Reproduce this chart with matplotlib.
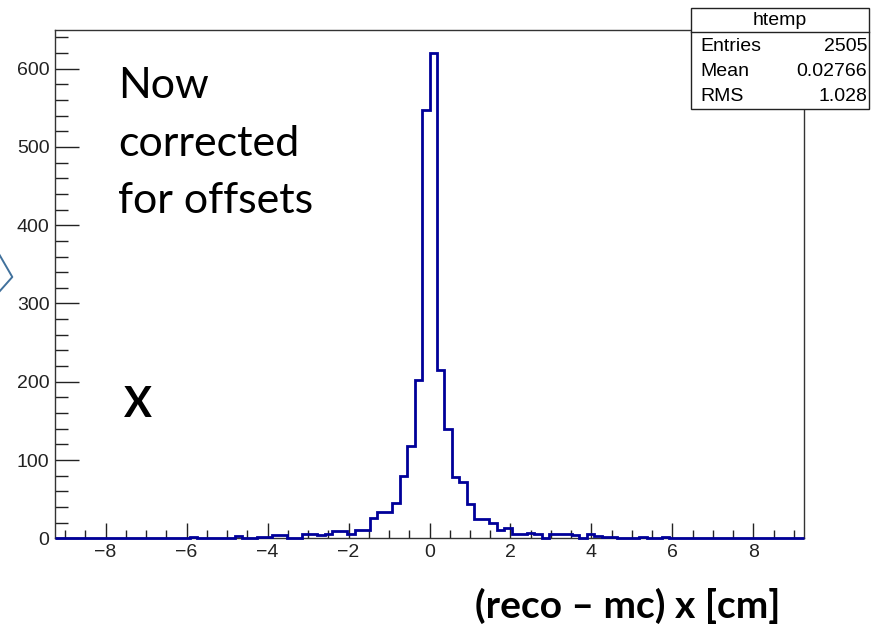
import numpy as np
import matplotlib
matplotlib.use("Agg")
import matplotlib.pyplot as plt
from matplotlib.patches import Rectangle
from matplotlib.lines import Line2D
from matplotlib.ticker import MultipleLocator

# ---- data ----
x_min, x_max, n_bins = -9.25, 9.25, 100
counts = [0] * 100
tail_and_core = {
    18: 2, 24: 3, 25: 1, 26: 1, 27: 2, 28: 2, 29: 4, 30: 4, 31: 1, 32: 1,
    33: 5, 34: 5, 35: 4, 36: 6, 37: 9, 38: 9, 39: 5, 40: 10, 41: 10,
    42: 26, 43: 34, 44: 34, 45: 45, 46: 80, 47: 118, 48: 202, 49: 547,
    50: 620, 51: 215, 52: 140, 53: 78, 54: 72, 55: 44, 56: 25, 57: 25,
    58: 19, 59: 11, 60: 13, 61: 6, 62: 6, 63: 7, 64: 5, 65: 1, 66: 6,
    67: 5, 68: 5, 69: 4, 70: 1, 71: 5, 72: 3, 73: 2, 74: 2, 78: 2, 81: 2,
}
for k, v in tail_and_core.items():
    counts[k] = v
x_ticks = [-8, -6, -4, -2, 0, 2, 4, 6, 8]
y_ticks = [0, 100, 200, 300, 400, 500, 600]
stats_labels = ["Entries", "Mean", "RMS"]
stats_values = ["2505", "0.02766", "1.028"]

W, H = 872, 625
fig = plt.figure(figsize=(W / 100, H / 100), dpi=100)
fig.patch.set_facecolor("white")

def fx(x):
    return x / W

def fy(y):
    return 1 - y / H

ax_l, ax_r, ax_t, ax_b = 55, 804, 29.5, 538.3
ax = fig.add_axes([fx(ax_l), fy(ax_b), (ax_r - ax_l) / W, (ax_b - ax_t) / H])

edges = np.linspace(x_min, x_max, n_bins + 1)
ax.stairs(counts, edges, color="#000099", lw=2.0, clip_on=False, zorder=5)
ax.set_xlim(x_min, x_max)
ax.set_ylim(0, 650)

tick_font = dict(family="Liberation Sans", size=14, color="#222222")
ax.set_xticks(x_ticks)
ax.set_xticklabels([("\u2212" + str(-t)) if t < 0 else str(t) for t in x_ticks], **tick_font)
ax.set_yticks(y_ticks)
ax.set_yticklabels([str(t) for t in y_ticks], **tick_font)
ax.xaxis.set_minor_locator(MultipleLocator(0.5))
ax.yaxis.set_minor_locator(MultipleLocator(20))
ax.tick_params(axis="x", which="major", direction="in", length=11, width=1, pad=4, color="#222222")
ax.tick_params(axis="x", which="minor", direction="in", length=6, width=1, color="#222222")
ax.tick_params(axis="y", which="major", direction="in", length=17, width=1, pad=4, color="#222222")
ax.tick_params(axis="y", which="minor", direction="in", length=9, width=1, color="#222222")
for s in ax.spines.values():
    s.set_color("#333333")
    s.set_linewidth(1)

# ---- stats box ----
bx0, bx1, by0, by1, bsep = 691, 869, 8.3, 109, 32.3
fig.patches.append(Rectangle((fx(bx0), fy(by1)), (bx1 - bx0) / W, (by1 - by0) / H,
                             transform=fig.transFigure, facecolor="white",
                             edgecolor="#222222", lw=1, zorder=10))
fig.lines.append(Line2D([fx(bx0), fx(bx1)], [fy(bsep), fy(bsep)],
                        transform=fig.transFigure, color="#222222", lw=1, zorder=11))
fig.text(fx((bx0 + bx1) / 2), fy(20.5), "htemp", ha="center", va="center",
         family="Liberation Sans", size=14, zorder=12)
row_y = [46.5, 71, 96.5]
for lab, val, ry in zip(stats_labels, stats_values, row_y):
    fig.text(fx(700), fy(ry), lab, ha="left", va="center",
             family="Liberation Sans", size=14, zorder=12)
    fig.text(fx(867), fy(ry), val, ha="right", va="center",
             family="Liberation Sans", size=14, zorder=12)

# ---- annotations ----
ann_font = ["Lato", "Open Sans", "DejaVu Sans"]
for txt, base in zip(["Now", "corrected", "for offsets"], [97.7, 155.5, 213]):
    fig.text(fx(118), fy(base), txt, ha="left", va="baseline",
             family=ann_font, size=31, color="black")
fig.text(fx(124), fy(416.7), "X", ha="left", va="baseline",
         family=ann_font, size=30, weight="bold", color="black")
fig.text(fx(780), fy(618), "(reco \u2013 mc) x [cm]", ha="right", va="baseline",
         family=ann_font, size=28, weight="bold", color="black")

# chevron at left edge
fig.lines.append(Line2D([fx(-1), fx(12.3), fx(-1)], [fy(254), fy(277), fy(292)],
                        transform=fig.transFigure, color="#41719c", lw=1.4))

fig.savefig("out.png", dpi=100)
